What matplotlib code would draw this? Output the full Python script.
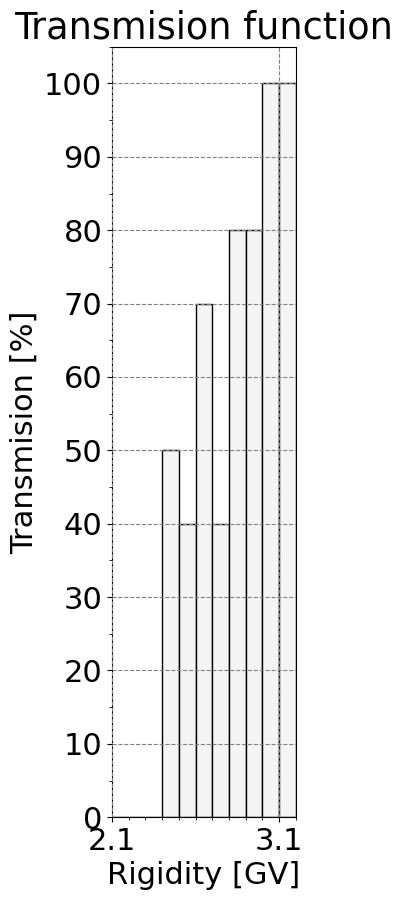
import matplotlib
matplotlib.use("Agg")
import matplotlib.pyplot as plt
import numpy as np
from matplotlib.ticker import MultipleLocator

# rigidity bins [GV] and transmission per bin [%]
bin_edges = [2.1, 2.2, 2.3, 2.4, 2.5, 2.6, 2.7, 2.8, 2.9, 3.0, 3.1, 3.2]
transmision = [0, 0, 0, 50, 40, 70, 40, 80, 80, 100, 100]
x_ticks = [2.1, 3.1]

plt.rcParams['font.size'] = 22

fig, ax = plt.subplots(figsize=(4.03, 9), dpi=100)
fig.subplots_adjust(left=0.278, right=0.734, top=0.948, bottom=0.092)

ax.hist(bin_edges[:-1], bins=bin_edges, weights=transmision,
        facecolor='#f4f4f4', edgecolor='black', linewidth=1.0)

ax.set_xlim(2.1, 3.2)
ax.set_ylim(0, 105)
ax.set_xticks(x_ticks)
ax.set_xticklabels(['%.1f' % t for t in x_ticks])
ax.set_xticks(bin_edges, minor=True)
ax.yaxis.set_major_locator(MultipleLocator(10))
ax.yaxis.set_minor_locator(MultipleLocator(5))

ax.grid(True, which='major', linestyle='--', color='gray', linewidth=0.8)
ax.set_axisbelow(False)

ax.set_title('Transmision function')
ax.set_xlabel('Rigidity [GV]')
ax.set_ylabel('Transmision [%]')

fig.savefig('out.png', dpi=100)
